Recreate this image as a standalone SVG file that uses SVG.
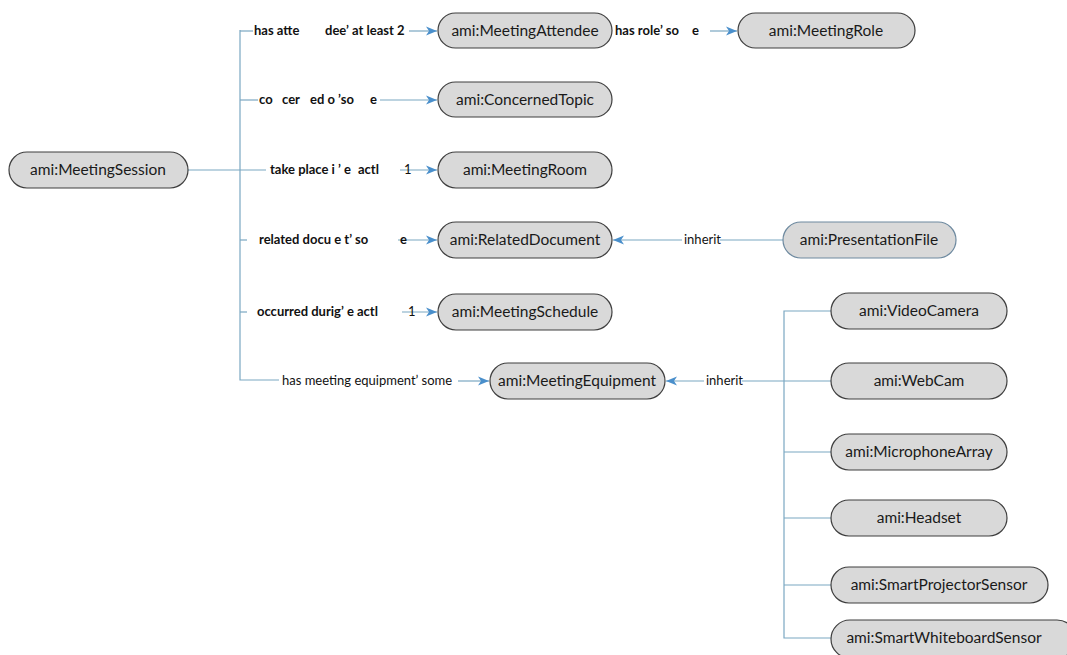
<svg xmlns="http://www.w3.org/2000/svg" width="1067" height="655" viewBox="0 0 1067 655">
<defs>
<marker id="arr" markerUnits="userSpaceOnUse" markerWidth="12" markerHeight="10" refX="11" refY="5" orient="auto">
<path d="M0,0.5 L11,5 L0,9.5 L3,5 Z" fill="#4a8fcb"/>
</marker>
</defs>
<style>
.n rect{fill:#d9d9d9;stroke:#3f3f3f;stroke-width:1.2}
.n text{font-family:Lato,"Liberation Sans",sans-serif;font-size:15.5px;fill:#1a1a1a;text-anchor:middle}
.c path{fill:none;stroke:#7ba7c2;stroke-width:1.2}
.c .a{marker-end:url(#arr)}
.lb{font-family:Lato,"Liberation Sans",sans-serif;font-size:13px;font-weight:bold;fill:#111}
.lr{font-family:Lato,"Liberation Sans",sans-serif;font-size:13px;fill:#111}
</style>
<rect width="1067" height="655" fill="#ffffff"/>
<g id="connectors" class="c">
<path d="M188,170 H266"/>
<path d="M240,30 V380 H279"/>
<path d="M240,31 H253"/>
<path class="a" d="M409,31 H437"/>
<path d="M240,100 H258"/>
<path class="a" d="M380,100 H437"/>
<path class="a" d="M400,170 H437"/>
<path d="M240,240 H247"/>
<path class="a" d="M398,240 H437"/>
<path d="M240,312 H247"/>
<path class="a" d="M402,312 H437"/>
<path class="a" d="M458,381 H489"/>
<path class="a" d="M710,31 H737"/>
<path d="M783,240 H720"/>
<path class="a" d="M682,240 H613"/>
<path d="M831,381 H742"/>
<path class="a" d="M704,381 H666"/>
<path d="M831,311 H784 V638 H831"/>
<path d="M784,452 H831"/>
<path d="M784,518 H831"/>
<path d="M784,585 H831"/>
<text class="lb" x="254" y="35" xml:space="preserve">has atte<tspan x="325">dee’ at least 2</tspan></text>
<text class="lb" x="259" y="104" xml:space="preserve">co<tspan x="282">cer</tspan><tspan x="310">ed o ’so</tspan><tspan x="370">e</tspan></text>
<text class="lb" x="270" y="174" xml:space="preserve">take place i<tspan x="338">’ e</tspan><tspan x="358">actl</tspan><tspan x="404" font-weight="normal">1</tspan></text>
<text class="lb" x="259" y="244" xml:space="preserve">related docu e t’ so<tspan x="400">e</tspan></text>
<text class="lb" x="257" y="316" xml:space="preserve">occurred durig’ e actl<tspan x="408" font-weight="normal">1</tspan></text>
<text class="lr" x="282" y="385">has meeting equipment’ some</text>
<text class="lb" x="615" y="35" xml:space="preserve">has role’ so<tspan x="692">e</tspan></text>
<text class="lr" x="684" y="244">inherit</text>
<text class="lr" x="706" y="385">inherit</text>
</g>
<g id="MeetingSession" class="n"><rect x="9" y="152" width="179" height="36" rx="18"/><text x="98" y="175">ami:MeetingSession</text></g>
<g id="MeetingAttendee" class="n"><rect x="438" y="13" width="174" height="35" rx="17.5"/><text x="525" y="36">ami:MeetingAttendee</text></g>
<g id="MeetingRole" class="n"><rect x="738" y="13" width="177" height="35" rx="17.5"/><text x="826" y="36">ami:MeetingRole</text></g>
<g id="ConcernedTopic" class="n"><rect x="438" y="82" width="174" height="35" rx="17.5"/><text x="525" y="105">ami:ConcernedTopic</text></g>
<g id="MeetingRoom" class="n"><rect x="438" y="152" width="174" height="36" rx="18"/><text x="525" y="175">ami:MeetingRoom</text></g>
<g id="RelatedDocument" class="n"><rect x="438" y="222" width="174" height="36" rx="18"/><text x="525" y="245">ami:RelatedDocument</text></g>
<g id="PresentationFile" class="n"><rect x="783" y="222" width="173" height="36" rx="18" style="stroke:#6e8aa0"/><text x="869" y="245">ami:PresentationFile</text></g>
<g id="MeetingSchedule" class="n"><rect x="438" y="294" width="174" height="36" rx="18"/><text x="525" y="317">ami:MeetingSchedule</text></g>
<g id="MeetingEquipment" class="n"><rect x="490" y="363" width="175" height="36" rx="18"/><text x="577" y="386">ami:MeetingEquipment</text></g>
<g id="VideoCamera" class="n"><rect x="831" y="293" width="176" height="36" rx="18"/><text x="919" y="316">ami:VideoCamera</text></g>
<g id="WebCam" class="n"><rect x="831" y="363" width="176" height="36" rx="18"/><text x="919" y="386">ami:WebCam</text></g>
<g id="MicrophoneArray" class="n"><rect x="831" y="434" width="176" height="36" rx="18"/><text x="919" y="457">ami:MicrophoneArray</text></g>
<g id="Headset" class="n"><rect x="831" y="500" width="176" height="36" rx="18"/><text x="919" y="523">ami:Headset</text></g>
<g id="SmartProjectorSensor" class="n"><rect x="831" y="567" width="217" height="36" rx="18"/><text x="939" y="590">ami:SmartProjectorSensor</text></g>
<g id="SmartWhiteboardSensor" class="n"><rect x="831" y="620" width="245" height="38" rx="19"/><text x="944" y="643">ami:SmartWhiteboardSensor</text></g>
</svg>
